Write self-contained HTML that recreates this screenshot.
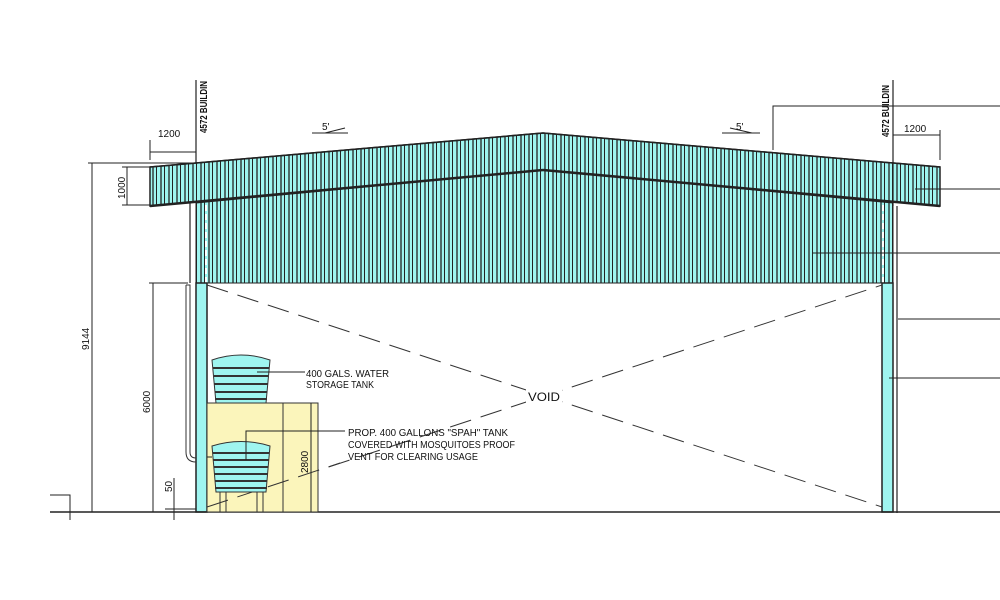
<!DOCTYPE html>
<html><head><meta charset="utf-8"><style>
html,body{margin:0;padding:0;background:#fff;}
svg{display:block;}
text{font-family:"Liberation Sans",sans-serif;fill:#111;}
</style></head><body>
<svg width="1000" height="600" viewBox="0 0 1000 600" xmlns="http://www.w3.org/2000/svg">
<defs>
<pattern id="rib" x="0" y="0" width="8" height="10" patternUnits="userSpaceOnUse">
<rect width="8" height="10" fill="#9ff5f0"/>
<line x1="1" y1="0" x2="1" y2="10" stroke="#222" stroke-width="1.3"/>
<line x1="4.5" y1="0" x2="4.5" y2="10" stroke="#222" stroke-width="1"/>
</pattern>
</defs>
<polygon points="196,203 543,170 893,203 893,283 196,283" fill="url(#rib)" stroke="#222" stroke-width="1"/>
<polygon points="150,167 543,133 940,167 940,206 543,170 150,206" fill="url(#rib)" stroke="#222" stroke-width="1.5"/>
<line x1="150" y1="206" x2="543" y2="170" stroke="#222" stroke-width="2.5"/>
<line x1="543" y1="170" x2="940" y2="206" stroke="#222" stroke-width="2.5"/>
<line x1="150" y1="167" x2="543" y2="133" stroke="#222" stroke-width="1.5"/>
<line x1="543" y1="133" x2="940" y2="167" stroke="#222" stroke-width="1.5"/>
<line x1="206" y1="205" x2="206" y2="283" stroke="#fff" stroke-width="2" stroke-dasharray="6,3"/>
<line x1="883" y1="205" x2="883" y2="283" stroke="#fff" stroke-width="2" stroke-dasharray="6,3"/>
<rect x="196" y="283" width="11" height="229" fill="#9ff5f0" stroke="#222" stroke-width="1.5"/>
<rect x="882" y="283" width="11" height="229" fill="#9ff5f0" stroke="#222" stroke-width="1.5"/>
<line x1="897" y1="206" x2="897" y2="513" stroke="#222" stroke-width="1.2"/>
<line x1="190" y1="203" x2="190" y2="283" stroke="#222" stroke-width="1.2"/>
<path d="M186,285 L190,285 L190,452 Q190,458 196,458" fill="none" stroke="#333" stroke-width="1"/>
<path d="M186,285 L186,452 Q186,462 196,462" fill="none" stroke="#333" stroke-width="1"/>
<line x1="196" y1="80" x2="196" y2="163" stroke="#222" stroke-width="1.2"/>
<line x1="893" y1="80" x2="893" y2="206" stroke="#222" stroke-width="1.2"/>
<text transform="translate(207,133) rotate(-90)" font-size="10" font-weight="bold" textLength="52" lengthAdjust="spacingAndGlyphs">4572 BUILDIN</text>
<text transform="translate(889,137) rotate(-90)" font-size="10" font-weight="bold" textLength="52" lengthAdjust="spacingAndGlyphs">4572 BUILDIN</text>
<line x1="207" y1="285" x2="882" y2="507" stroke="#333" stroke-width="1" stroke-dasharray="22,10"/>
<line x1="207" y1="507" x2="882" y2="285" stroke="#333" stroke-width="1" stroke-dasharray="22,10"/>
<rect x="526" y="389" width="36" height="14" fill="#fff"/>
<text x="528" y="401" font-size="12" textLength="32" lengthAdjust="spacingAndGlyphs">VOID</text>
<line x1="50" y1="512" x2="1000" y2="512" stroke="#222" stroke-width="1.5"/>
<polyline points="50,495 70,495 70,520" fill="none" stroke="#222" stroke-width="1"/>
<rect x="207" y="403" width="111" height="109" fill="#fbf5bb" stroke="#333" stroke-width="1"/>
<line x1="283" y1="403" x2="283" y2="512" stroke="#333" stroke-width="1"/>
<line x1="207" y1="507" x2="340" y2="463" stroke="#333" stroke-width="1" stroke-dasharray="22,10"/>
<path d="M212,360 Q241,350 270,360 L266,403 L216,403 Z" fill="#9ff5f0" stroke="#333" stroke-width="1"/>
<g stroke="#333" stroke-width="2"><line x1="213" y1="368" x2="269" y2="368"/><line x1="214" y1="376" x2="268" y2="376"/><line x1="214" y1="384" x2="268" y2="384"/><line x1="215" y1="392" x2="267" y2="392"/><line x1="215" y1="399" x2="267" y2="399"/></g>
<line x1="257" y1="372" x2="305" y2="372" stroke="#222" stroke-width="1"/>
<text x="306" y="377" font-size="10" textLength="83" lengthAdjust="spacingAndGlyphs">400 GALS. WATER</text>
<text x="306" y="388" font-size="10" textLength="68" lengthAdjust="spacingAndGlyphs">STORAGE TANK</text>
<path d="M212,446 Q241,437 270,446 L266,492 L216,492 Z" fill="#9ff5f0" stroke="#333" stroke-width="1"/>
<g stroke="#333" stroke-width="2"><line x1="213" y1="453" x2="269" y2="453"/><line x1="213" y1="460" x2="269" y2="460"/><line x1="214" y1="467" x2="268" y2="467"/><line x1="214" y1="474" x2="268" y2="474"/><line x1="215" y1="481" x2="267" y2="481"/><line x1="215" y1="488" x2="267" y2="488"/></g>
<g stroke="#333" stroke-width="1"><line x1="220" y1="492" x2="220" y2="512"/><line x1="226" y1="492" x2="226" y2="512"/><line x1="257" y1="492" x2="257" y2="512"/><line x1="263" y1="492" x2="263" y2="512"/></g>
<polyline points="246,460 246,431 345,431" fill="none" stroke="#222" stroke-width="1"/>
<line x1="207" y1="457" x2="212" y2="457" stroke="#222"/>
<text x="348" y="436" font-size="10" textLength="160" lengthAdjust="spacingAndGlyphs">PROP. 400 GALLONS "SPAH" TANK</text>
<text x="348" y="448" font-size="10" textLength="167" lengthAdjust="spacingAndGlyphs">COVERED WITH MOSQUITOES PROOF</text>
<text x="348" y="460" font-size="10" textLength="130" lengthAdjust="spacingAndGlyphs">VENT FOR CLEARING USAGE</text>
<g stroke="#222" stroke-width="1" fill="none">
<line x1="150" y1="140" x2="150" y2="160"/><line x1="150" y1="152" x2="196" y2="152"/>
<line x1="940" y1="130" x2="940" y2="160"/><line x1="893" y1="135" x2="940" y2="135"/>
<line x1="127" y1="167" x2="127" y2="205"/><line x1="122" y1="167" x2="150" y2="167"/><line x1="122" y1="205" x2="150" y2="205"/>
<line x1="88" y1="163" x2="196" y2="163"/><line x1="92" y1="163" x2="92" y2="512"/>
<line x1="149" y1="283" x2="188" y2="283"/><line x1="153" y1="283" x2="153" y2="512"/>
<line x1="174" y1="478" x2="174" y2="520"/><line x1="165" y1="509" x2="196" y2="509"/>
<line x1="311" y1="403" x2="311" y2="512"/>
<line x1="312" y1="133" x2="348" y2="133"/><line x1="325" y1="133" x2="345" y2="128"/>
<line x1="722" y1="133" x2="760" y2="133"/><line x1="730" y1="128" x2="752" y2="133"/>
<polyline points="773,150 773,106 1000,106"/>
<line x1="915" y1="189" x2="1000" y2="189"/>
<line x1="813" y1="253" x2="1000" y2="253"/>
<line x1="898" y1="319" x2="1000" y2="319"/>
<line x1="889" y1="378" x2="1000" y2="378"/>
</g>
<text x="158" y="137" font-size="10">1200</text>
<text x="904" y="132" font-size="10">1200</text>
<text transform="translate(125,199) rotate(-90)" font-size="10">1000</text>
<text transform="translate(89,350) rotate(-90)" font-size="10">9144</text>
<text transform="translate(150,413) rotate(-90)" font-size="10">6000</text>
<text transform="translate(172,492) rotate(-90)" font-size="10">50</text>
<text transform="translate(308,473) rotate(-90)" font-size="10">2800</text>
<text x="322" y="130" font-size="10">5'</text>
<text x="736" y="130" font-size="10">5'</text>
</svg>
</body></html>
